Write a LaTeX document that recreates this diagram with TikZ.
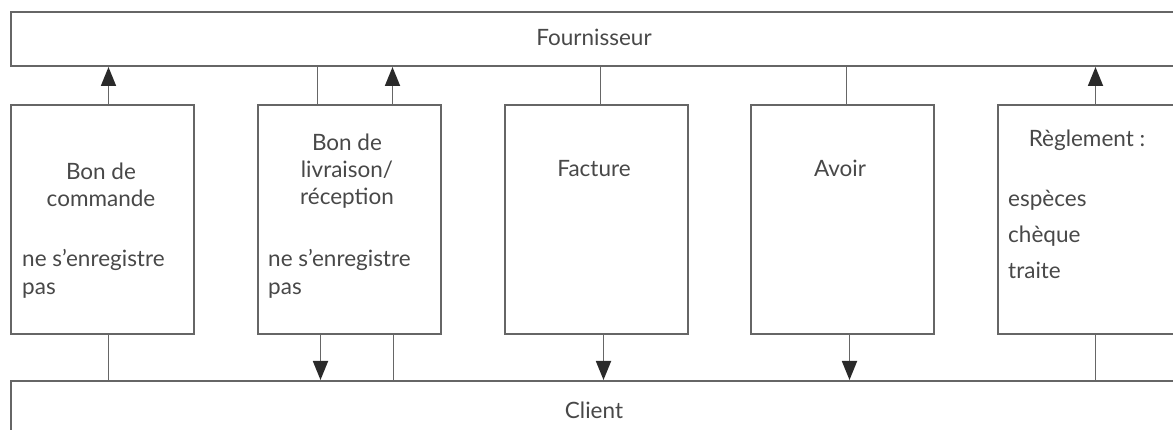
\documentclass[tikz,border=0pt]{standalone}
\usepackage{fontspec}
\setmainfont{Lato}
\usetikzlibrary{arrows.meta}
\definecolor{edge}{HTML}{666666}
\definecolor{ink}{HTML}{484848}
\definecolor{tip}{HTML}{2A2A2A}
\tikzset{
  flowtip/.tip={Triangle[length=19pt,width=15pt,fill=tip,color=tip]}
}
\begin{document}
\begin{tikzpicture}[x=1pt,y=-1pt,
  bar/.style={draw=edge,line width=2pt,inner sep=0pt,anchor=north west},
  doc/.style={draw=edge,line width=2pt,inner sep=0pt,anchor=north west,
    minimum width=183pt,minimum height=229pt},
  lbl/.style={text=ink,font=\fontsize{22.5}{26}\selectfont,inner sep=0pt,anchor=base},
  lbll/.style={lbl,anchor=base west},
  wire/.style={draw=edge,line width=1.8pt},
  flow/.style={wire,arrows={-flowtip}}]
\useasboundingbox (0,0) rectangle (1173,430);
\clip (0,0) rectangle (1173,430);

% supplier and customer bands
\node[bar,minimum width=1190pt,minimum height=54pt] (four) at (10,11) {};
\node[bar,minimum width=1190pt,minimum height=60pt] (cli) at (10,380) {};
\node[lbl] (tfour) at (594,46) {Fournisseur};
\node[lbl] (tcli) at (594,418) {Client};

% documents
\node[doc] (b1) at (10,104) {};
\node[doc] (b2) at (257,104) {};
\node[doc] (b3) at (504,104) {};
\node[doc] (b4) at (750,104) {};
\node[doc] (b5) at (997,104) {};

\node[lbl] (t1a) at (101,180) {Bon de};
\node[lbl] (t1b) at (101,207) {commande};
\node[lbll] (t1c) at (22,267) {ne s’enregistre};
\node[lbll] (t1d) at (22,295) {pas};

\node[lbl] (t2a) at (347,151) {Bon de};
\node[lbl] (t2b) at (347,178) {livraison/};
\node[lbl] (t2c) at (347,205) {réception};
\node[lbll] (t2d) at (268,267) {ne s’enregistre};
\node[lbll] (t2e) at (268,295) {pas};

\node[lbl] (t3) at (594,177) {Facture};
\node[lbl] (t4) at (840,177) {Avoir};

\node[lbl] (t5a) at (1087,147) {Règlement :};
\node[lbll] (t5b) at (1008,207) {espèces};
\node[lbll] (t5c) at (1008,243) {chèque};
\node[lbll] (t5d) at (1008,279) {traite};

% links to the supplier
\draw[flow] ([xshift=6pt]b1.north) -- ([xshift=6pt]b1.north |- four.south);
\draw[wire] ([xshift=-32pt]b2.north) -- ([xshift=-32pt]b2.north |- four.south);
\draw[flow] ([xshift=43pt]b2.north) -- ([xshift=43pt]b2.north |- four.south);
\draw[wire] ([xshift=4pt]b3.north) -- ([xshift=4pt]b3.north |- four.south);
\draw[wire] ([xshift=4pt]b4.north) -- ([xshift=4pt]b4.north |- four.south);
\draw[flow] ([xshift=6pt]b5.north) -- ([xshift=6pt]b5.north |- four.south);

% links to the customer
\draw[wire] ([xshift=6pt]b1.south) -- ([xshift=6pt]b1.south |- cli.north);
\draw[flow] ([xshift=-29pt]b2.south) -- ([xshift=-29pt]b2.south |- cli.north);
\draw[wire] ([xshift=44pt]b2.south) -- ([xshift=44pt]b2.south |- cli.north);
\draw[flow] ([xshift=7pt]b3.south) -- ([xshift=7pt]b3.south |- cli.north);
\draw[flow] ([xshift=7pt]b4.south) -- ([xshift=7pt]b4.south |- cli.north);
\draw[wire] ([xshift=6pt]b5.south) -- ([xshift=6pt]b5.south |- cli.north);
\end{tikzpicture}
\end{document}
